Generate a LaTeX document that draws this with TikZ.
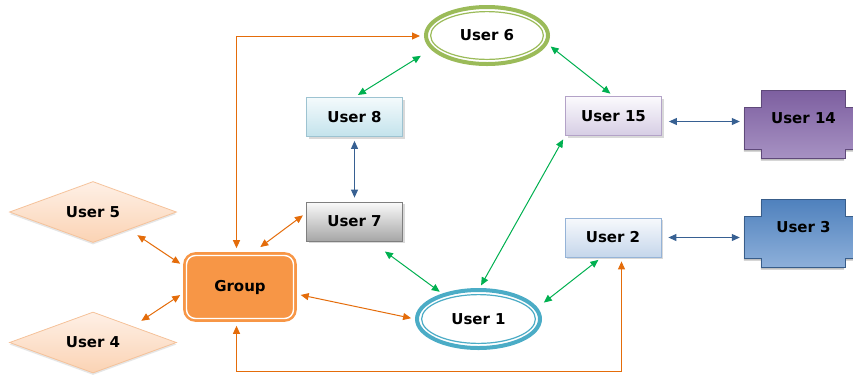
\documentclass[tikz,border=0pt]{standalone}
\usepackage{fontspec}
\setmainfont{DejaVu Sans}
\usetikzlibrary{arrows.meta,shapes.geometric,shadows,backgrounds,calc}

\definecolor{ringgreen}{HTML}{9BBB59}
\definecolor{ringblue}{HTML}{4BACC6}
\definecolor{grouporange}{HTML}{F79646}
\definecolor{linkorange}{HTML}{E46C0A}
\definecolor{linkgreen}{HTML}{00B050}
\definecolor{linkblue}{HTML}{376092}
\definecolor{aquaedge}{HTML}{9DC3D1}
\definecolor{aquatop}{HTML}{F4FAFC}
\definecolor{aquabot}{HTML}{C3E3EC}
\definecolor{lilacedge}{HTML}{B3A2C7}
\definecolor{lilactop}{HTML}{FBFAFD}
\definecolor{lilacbot}{HTML}{D6CDE4}
\definecolor{greyedge}{HTML}{7F7F7F}
\definecolor{greytop}{HTML}{FAFAFA}
\definecolor{greybot}{HTML}{A6A6A6}
\definecolor{skyedge}{HTML}{95B3D7}
\definecolor{skytop}{HTML}{F7F9FC}
\definecolor{skybot}{HTML}{C5D6EB}
\definecolor{peachedge}{HTML}{F5C29A}
\definecolor{peachtop}{HTML}{FEF0E6}
\definecolor{peachbot}{HTML}{FBD3B4}
\definecolor{plumtop}{HTML}{7D5FA0}
\definecolor{plumbot}{HTML}{A792C3}
\definecolor{plumedge}{HTML}{5F497A}
\definecolor{steeltop}{HTML}{4F81BD}
\definecolor{steelbot}{HTML}{8EB0DA}
\definecolor{steeledge}{HTML}{385D8A}

\tikzset{
  every node/.style={font=\bfseries\fontsize{15}{18}\selectfont},
  userbox/.style={rectangle, draw=#1edge, top color=#1top, bottom color=#1bot,
    line width=0.8pt, minimum width=96pt, minimum height=39pt,
    drop shadow={shadow xshift=2pt, shadow yshift=-2pt, opacity=0.3}},
  ring/.style={ellipse, draw=#1, line width=4pt, fill=white, inner sep=0pt,
    path picture={\draw[#1, line width=1.2pt]
      let \p1=(path picture bounding box.north east),
          \p2=(path picture bounding box.center) in
      (\p2) ellipse [x radius=\x1-\x2-4.6pt, y radius=\y1-\y2-4.6pt];}},
  groupbox/.style={rectangle, rounded corners=9pt, draw=grouporange, double=white,
    double distance=1.4pt, line width=2.6pt, fill=grouporange,
    minimum width=107pt, minimum height=63pt},
  userdiamond/.style={diamond, aspect=2.7, draw=peachedge, line width=0.8pt,
    top color=peachtop, bottom color=peachbot, inner sep=0pt,
    minimum width=167pt, minimum height=61pt,
    drop shadow={shadow xshift=0pt, shadow yshift=-2pt, opacity=0.2}},
  plaque/.style={rectangle, minimum width=117pt, minimum height=42pt, inner sep=0pt,
    text height=11pt, text depth=22pt},
  link/.style={<->, >={Triangle[length=8pt,width=7pt]}, line width=1pt,
    shorten <=4pt, shorten >=4pt},
  orangelink/.style={link, draw=linkorange},
  greenlink/.style={link, draw=linkgreen},
  bluelink/.style={link, draw=linkblue}
}

\begin{document}
\begin{tikzpicture}[x=1pt,y=-1pt]
\useasboundingbox (0,0) rectangle (853,376);
% Users and the group
\node[ring=ringgreen, minimum width=122pt, minimum height=57pt] (user6) at (487,35.5) {User 6};
\node[ring=ringblue, minimum width=123pt, minimum height=58pt] (user1) at (478.5,319) {User 1};
\node[userbox=aqua] (user8) at (354.5,117) {User 8};
\node[userbox=lilac] (user15) at (613.5,116) {User 15};
\node[userbox=grey] (user7) at (354.5,221.5) {User 7};
\node[userbox=sky] (user2) at (613,237.5) {User 2};
\node[groupbox] (group) at (240,287) {Group};
\node[userdiamond] (user5) at (93,212) {User 5};
\node[userdiamond] (user4) at (93,342.5) {User 4};
\node[plaque] (user14) at (803.5,128.5) {User 14};
\node[plaque] (user3) at (803.5,237.5) {User 3};

% Plaque outlines behind their labels
\begin{scope}[on background layer]
\foreach \n/\ca/\cb/\ce in {user14/plumtop/plumbot/plumedge, user3/steeltop/steelbot/steeledge}
  \shadedraw[top color=\ca, bottom color=\cb, draw=\ce, line width=0.8pt,
      drop shadow={shadow xshift=-1pt, shadow yshift=-2pt, opacity=0.5}]
    (\n.north west) -- ([xshift=17pt]\n.north west)
    -- ([xshift=17pt,yshift=17pt]\n.north west) -- ([xshift=-17pt,yshift=17pt]\n.north east)
    -- ([xshift=-17pt]\n.north east) -- (\n.north east) -- (\n.south east)
    -- ([xshift=-17pt]\n.south east) -- ([xshift=-17pt,yshift=-9pt]\n.south east)
    -- ([xshift=17pt,yshift=-9pt]\n.south west) -- ([xshift=17pt]\n.south west)
    -- (\n.south west) -- cycle;
\end{scope}

% Group links
\draw[orangelink, shorten <=6pt] ([xshift=-3.5pt]group.north) |- ([yshift=-0.5pt]user6.west);
\draw[orangelink, shorten <=6pt] ([xshift=-3.5pt]group.south) -- ++(0,52) -| ([xshift=8.5pt]user2.south);
\draw[orangelink, shorten <=12pt] (group.72) -- (user7.170);
\draw[orangelink, shorten <=10pt, shorten >=6pt] (user5.-26) -- (group.160);
\draw[orangelink, shorten <=10pt, shorten >=6pt] (user4.22) -- (group.185);
\draw[orangelink, shorten <=6pt] (group.-7) -- (user1.west);
% Ring links
\draw[greenlink, shorten >=12pt] (user8.north) -- (user6.194);
\draw[greenlink] (user6.-8) -- (user15.north);
\draw[greenlink, shorten <=17pt, shorten >=3pt] (user7.-50) -- (user1.145);
\draw[greenlink, shorten <=3pt] (user1.88) -- (user15.south west);
\draw[greenlink, shorten <=8pt] (user1.11) -- (user2.-120);
% Vertical and side links
\draw[bluelink] (user8.south) -- (user7.north);
\draw[bluelink, shorten <=7pt, shorten >=5pt] ([yshift=-5.5pt]user15.east) -- ([yshift=-5.5pt]user15.east -| user14.west);
\draw[bluelink, shorten <=7pt, shorten >=5pt] (user2.east) -- (user2.east -| user3.west);
\end{tikzpicture}
\end{document}
